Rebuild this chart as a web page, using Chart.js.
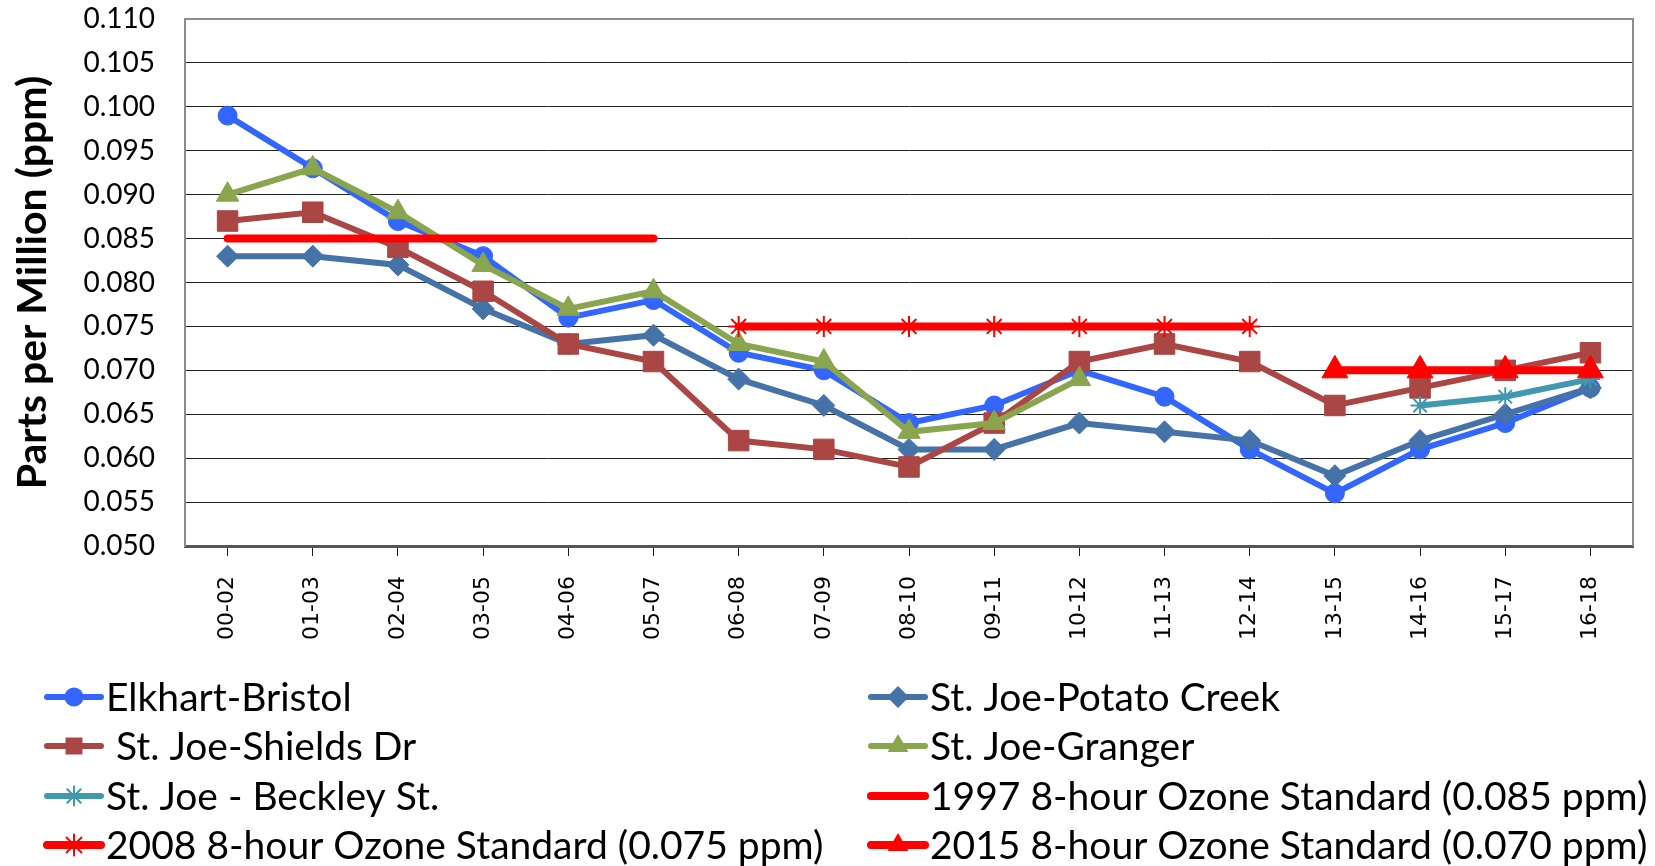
<!DOCTYPE html>
<html>
<head>
<meta charset="utf-8">
<script src="https://cdn.jsdelivr.net/npm/chart.js@4"></script>
<style>
    html, body { margin: 0; padding: 0; background: #fff; }
</style>
</head>
<body>
<canvas id="ozone" width="1655" height="866"></canvas>
<script>
const periods = ['00-02', '01-03', '02-04', '03-05', '04-06', '05-07', '06-08', '07-09', '08-10',
    '09-11', '10-12', '11-13', '12-14', '13-15', '14-16', '15-17', '16-18']

const elkhartBristol = [0.099, 0.093, 0.087, 0.083, 0.076, 0.078, 0.072, 0.070, 0.064, 0.066, 0.070, 0.067, 0.061, 0.056, 0.061, 0.064, 0.068]
const potatoCreek = [0.083, 0.083, 0.082, 0.077, 0.073, 0.074, 0.069, 0.066, 0.061, 0.061, 0.064, 0.063, 0.062, 0.058, 0.062, 0.065, 0.068]
const shieldsDr = [0.087, 0.088, 0.084, 0.079, 0.073, 0.071, 0.062, 0.061, 0.059, 0.064, 0.071, 0.073, 0.071, 0.066, 0.068, 0.070, 0.072]
const granger = [0.090, 0.093, 0.088, 0.082, 0.077, 0.079, 0.073, 0.071, 0.063, 0.064, 0.069, null, null, null, null, null, null]
const beckley = [null, null, null, null, null, null, null, null, null, null, null, null, null, null, 0.066, 0.067, 0.069]
const std1997 = [0.085, 0.085, 0.085, 0.085, 0.085, 0.085, null, null, null, null, null, null, null, null, null, null, null]
const std2008 = [null, null, null, null, null, null, 0.075, 0.075, 0.075, 0.075, 0.075, 0.075, 0.075, null, null, null, null]
const std2015 = [null, null, null, null, null, null, null, null, null, null, null, null, null, 0.070, 0.070, 0.070, 0.070]

const yMin = 0.050
const yMax = 0.110
const yStep = 0.005

const series = (label, data, color, style, radius, width) => ({
    label,
    data,
    borderColor: color,
    backgroundColor: color,
    borderWidth: width,
    pointStyle: style,
    pointRadius: style ? radius : 0,
    pointBorderWidth: style === 'star' ? 2 : 1,
    pointBorderColor: color,
    pointBackgroundColor: color,
    borderCapStyle: 'round',
    spanGaps: false,
    tension: 0,
})

const datasets = [
    series('Elkhart-Bristol', elkhartBristol, '#3366FF', 'circle', 9.5, 6),
    series('St. Joe-Potato Creek', potatoCreek, '#4572A7', 'rectRot', 11, 6),
    series(' St. Joe-Shields Dr', shieldsDr, '#AA4643', 'rect', 14.5, 6),
    series('St. Joe-Granger', granger, '#89A54E', 'triangle', 13, 6),
    series('St. Joe - Beckley St.', beckley, '#4198AF', 'star', 9.5, 6),
    series('1997 8-hour Ozone Standard (0.085 ppm)', std1997, '#FF0000', null, 0, 8),
    series('2008 8-hour Ozone Standard (0.075 ppm)', std2008, '#FF0000', 'star', 10.5, 8),
    series('2015 8-hour Ozone Standard (0.070 ppm)', std2015, '#FF0000', 'triangle', 15, 8),
]
// later series drawn on top, like the original
datasets.forEach((d, i) => { d.order = datasets.length - i })

const drawMarker = (ctx, style, x, y, r) => {
    ctx.beginPath()
    if (style === 'circle') {
        ctx.arc(x, y, r, 0, Math.PI * 2)
        ctx.fill()
    } else if (style === 'rect') {
        const s = r * Math.SQRT1_2
        ctx.fillRect(x - s, y - s, s * 2, s * 2)
    } else if (style === 'rectRot') {
        ctx.moveTo(x - r, y)
        ctx.lineTo(x, y - r)
        ctx.lineTo(x + r, y)
        ctx.lineTo(x, y + r)
        ctx.closePath()
        ctx.fill()
    } else if (style === 'triangle') {
        ctx.moveTo(x, y - r)
        ctx.lineTo(x + r * 0.866, y + r * 0.5)
        ctx.lineTo(x - r * 0.866, y + r * 0.5)
        ctx.closePath()
        ctx.fill()
    } else if (style === 'star') {
        ctx.lineWidth = 2
        for (let a = 0; a < 4; a++) {
            const t = a * Math.PI / 4
            ctx.moveTo(x - Math.cos(t) * r, y - Math.sin(t) * r)
            ctx.lineTo(x + Math.cos(t) * r, y + Math.sin(t) * r)
        }
        ctx.stroke()
    }
}

const plotFrame = {
    id: 'plotFrame',
    beforeDatasetsDraw: (chart) => {
        const { ctx, chartArea: a } = chart
        ctx.save()
        ctx.strokeStyle = '#8c8c8c'
        ctx.lineWidth = 2
        ctx.beginPath()
        ctx.moveTo(a.left, a.top)
        ctx.lineTo(a.right, a.top)
        ctx.lineTo(a.right, a.bottom)
        ctx.stroke()
        ctx.restore()
    },
}

const legendColumns = [47, 871]
const legendRows = [697, 746, 796, 845]
const legendBlock = {
    id: 'legendBlock',
    afterDraw: (chart) => {
        const ctx = chart.ctx
        ctx.save()
        chart.data.datasets.forEach((d, i) => {
            const x = legendColumns[i % 2]
            const y = legendRows[Math.floor(i / 2)]
            ctx.strokeStyle = d.borderColor
            ctx.fillStyle = d.borderColor
            ctx.lineWidth = d.borderWidth
            ctx.lineCap = 'round'
            ctx.beginPath()
            ctx.moveTo(x, y)
            ctx.lineTo(x + 54, y)
            ctx.stroke()
            if (d.pointStyle) drawMarker(ctx, d.pointStyle, x + 27, y, Math.min(d.pointRadius, 12))
            ctx.fillStyle = '#000'
            ctx.font = '39px Lato'
            ctx.textBaseline = 'middle'
            ctx.textAlign = 'left'
            ctx.fillText(d.label, x + 59, y + 1)
        })
        ctx.restore()
    },
}

new Chart(document.getElementById('ozone'), {
    type: 'line',
    data: { labels: periods, datasets },
    options: {
        responsive: false,
        animation: false,
        devicePixelRatio: 1,
        layout: { padding: { top: 19, right: 22, left: 0, bottom: 0 } },
        plugins: { legend: { display: false }, tooltip: { enabled: false } },
        scales: {
            x: {
                offset: true,
                grid: { drawOnChartArea: false, offset: false, tickLength: 10, color: '#222' },
                border: { color: '#555', width: 3 },
                ticks: {
                    autoSkip: false,
                    minRotation: 90,
                    maxRotation: 90,
                    padding: 20,
                    color: '#000',
                    font: { family: 'DejaVu Sans', size: 22 },
                },
                afterFit: (scale) => { scale.height = 320 },
            },
            y: {
                min: yMin,
                max: yMax,
                ticks: {
                    stepSize: yStep,
                    padding: 30,
                    color: '#000',
                    font: { family: 'Lato', size: 28 },
                    callback: (v) => (+v).toFixed(3),
                },
                grid: { color: '#222', drawTicks: false },
                border: { color: '#8c8c8c', width: 2 },
                title: {
                    display: true,
                    text: 'Parts per Million (ppm)',
                    color: '#000',
                    font: { family: 'Lato', size: 41, weight: 'bold', lineHeight: 1.2 },
                    padding: { top: 8 },
                },
                afterFit: (scale) => {
                    scale.width = 185
                    scale.paddingTop = 0
                },
            },
        },
    },
    plugins: [plotFrame, legendBlock],
})
</script>
</body>
</html>
